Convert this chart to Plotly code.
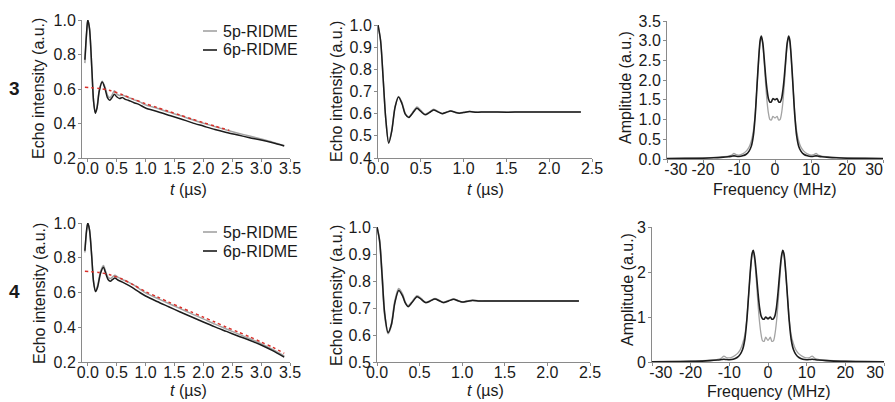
import plotly.graph_objects as go

W, H = 895, 402

# ---------------- Data ----------------
# Row 3, left: time traces
t3_left = [-0.05, -0.02, 0.0, 0.03, 0.07, 0.10, 0.13, 0.16, 0.20, 0.25, 0.30, 0.34, 0.38, 0.42,
           0.46, 0.50, 0.55, 0.60, 0.65, 0.70, 0.75, 0.80, 0.85, 0.90, 1.0, 1.2, 1.4, 1.6, 1.8,
           2.0, 2.2, 2.4, 2.6, 2.8, 3.0, 3.2, 3.4]
black3_left = [0.77, 0.93, 1.0, 0.95, 0.72, 0.53, 0.46, 0.49, 0.59, 0.64, 0.60, 0.55, 0.535, 0.55,
               0.57, 0.555, 0.545, 0.55, 0.54, 0.535, 0.528, 0.52, 0.515, 0.508, 0.49, 0.47, 0.448,
               0.428, 0.405, 0.385, 0.365, 0.348, 0.333, 0.318, 0.304, 0.288, 0.27]
gray3_left = [0.75, 0.92, 1.0, 0.95, 0.72, 0.53, 0.465, 0.495, 0.595, 0.645, 0.61, 0.565, 0.55, 0.565,
              0.59, 0.572, 0.562, 0.565, 0.557, 0.55, 0.545, 0.537, 0.532, 0.525, 0.508, 0.488, 0.466,
              0.446, 0.423, 0.402, 0.382, 0.362, 0.344, 0.327, 0.31, 0.292, 0.272]
t3_fit = [-0.05, 0.2, 0.4, 0.6, 0.8, 1.0, 1.2, 1.4, 1.6, 1.8, 2.0, 2.2, 2.45]
fit3 = [0.61, 0.603, 0.59, 0.567, 0.54, 0.515, 0.493, 0.47, 0.449, 0.426, 0.405, 0.385, 0.36]

# Row 3, middle: background-corrected
t3_mid = [0.0, 0.03, 0.06, 0.09, 0.125, 0.16, 0.20, 0.24, 0.28, 0.32, 0.36, 0.40, 0.455, 0.50, 0.55,
          0.60, 0.65, 0.70, 0.75, 0.80, 0.85, 0.90, 0.95, 1.0, 1.07, 1.15, 1.25, 1.4, 1.6, 1.8, 2.0,
          2.2, 2.37]
black3_mid = [1.0, 0.93, 0.76, 0.58, 0.467, 0.52, 0.63, 0.675, 0.645, 0.597, 0.583, 0.60, 0.625,
              0.61, 0.595, 0.605, 0.617, 0.608, 0.600, 0.606, 0.612, 0.606, 0.602, 0.605, 0.61, 0.606,
              0.608, 0.607, 0.607, 0.607, 0.607, 0.607, 0.607]
gray3_mid = [1.0, 0.93, 0.76, 0.58, 0.47, 0.523, 0.633, 0.678, 0.65, 0.60, 0.585, 0.603, 0.63,
             0.615, 0.597, 0.607, 0.62, 0.61, 0.601, 0.607, 0.613, 0.607, 0.603, 0.606, 0.61, 0.607,
             0.608, 0.607, 0.607, 0.607, 0.607, 0.607, 0.607]

# Row 4, left
t4_left = [-0.05, -0.02, 0.0, 0.03, 0.07, 0.10, 0.135, 0.17, 0.22, 0.27, 0.31, 0.35, 0.39, 0.43,
           0.47, 0.52, 0.60, 0.70, 0.80, 0.90, 1.0, 1.2, 1.4, 1.6, 1.8, 2.0, 2.2, 2.4, 2.6, 2.8,
           3.0, 3.2, 3.4]
black4_left = [0.84, 0.96, 1.0, 0.96, 0.80, 0.66, 0.605, 0.63, 0.71, 0.745, 0.71, 0.675, 0.665, 0.675,
               0.683, 0.672, 0.66, 0.643, 0.622, 0.60, 0.58, 0.548, 0.518, 0.488, 0.459, 0.43, 0.402,
               0.376, 0.35, 0.325, 0.298, 0.265, 0.228]
gray4_left = [0.83, 0.955, 1.0, 0.96, 0.80, 0.665, 0.61, 0.64, 0.72, 0.755, 0.72, 0.688, 0.68, 0.69,
              0.70, 0.688, 0.675, 0.66, 0.642, 0.62, 0.598, 0.567, 0.537, 0.507, 0.477, 0.448, 0.418,
              0.39, 0.362, 0.335, 0.306, 0.272, 0.235]
t4_fit = [-0.05, 0.2, 0.4, 0.6, 0.8, 1.0, 1.2, 1.4, 1.6, 1.8, 2.0, 2.2, 2.4, 2.6, 2.8, 3.0, 3.2, 3.4]
fit4 = [0.722, 0.715, 0.70, 0.677, 0.642, 0.605, 0.575, 0.545, 0.515, 0.487, 0.458, 0.43, 0.40,
        0.373, 0.345, 0.315, 0.285, 0.25]

# Row 4, middle
t4_mid = [0.0, 0.03, 0.06, 0.09, 0.13, 0.17, 0.21, 0.255, 0.30, 0.33, 0.365, 0.41, 0.47, 0.52, 0.57,
          0.62, 0.68, 0.73, 0.78, 0.84, 0.90, 0.95, 1.0, 1.06, 1.12, 1.2, 1.3, 1.5, 1.7, 1.9, 2.1, 2.37]
black4_mid = [1.0, 0.95, 0.82, 0.68, 0.609, 0.64, 0.72, 0.765, 0.745, 0.72, 0.705, 0.72, 0.742, 0.732,
              0.72, 0.725, 0.733, 0.727, 0.72, 0.726, 0.732, 0.727, 0.722, 0.725, 0.728, 0.726, 0.726,
              0.726, 0.726, 0.726, 0.726, 0.726]
gray4_mid = [1.0, 0.95, 0.82, 0.675, 0.605, 0.64, 0.725, 0.772, 0.75, 0.722, 0.708, 0.722, 0.745,
             0.734, 0.72, 0.726, 0.735, 0.728, 0.72, 0.727, 0.733, 0.727, 0.722, 0.725, 0.729, 0.726,
             0.726, 0.726, 0.726, 0.726, 0.726, 0.726]

# Spectra (frequency in MHz)
freq = [-30, -25, -20, -17, -15, -13, -12, -11.4, -10.8, -10, -9, -8, -7.2, -6.6, -6, -5.5, -5,
        -4.5, -4.1, -3.8, -3.4, -3.0, -2.6, -2.2, -1.8, -1.4, -1.0, -0.6, 0, 0.6, 1.0, 1.4, 1.8,
        2.2, 2.6, 3.0, 3.4, 3.8, 4.1, 4.5, 5, 5.5, 6, 6.6, 7.2, 8, 9, 10, 10.8, 11.4, 12, 13, 15,
        17, 20, 25, 30]
black3_spec = [0.01, 0.015, 0.02, 0.03, 0.04, 0.055, 0.07, 0.08, 0.07, 0.065, 0.08, 0.12, 0.2, 0.32,
               0.6, 1.1, 1.85, 2.6, 3.02, 3.12, 2.95, 2.55, 2.1, 1.75, 1.52, 1.44, 1.45, 1.53, 1.5,
               1.53, 1.45, 1.44, 1.52, 1.75, 2.1, 2.55, 2.95, 3.12, 3.02, 2.6, 1.85, 1.1, 0.6, 0.32,
               0.2, 0.12, 0.08, 0.065, 0.07, 0.08, 0.07, 0.055, 0.04, 0.03, 0.02, 0.015, 0.01]
gray3_spec = [0.01, 0.015, 0.025, 0.04, 0.05, 0.07, 0.1, 0.14, 0.11, 0.1, 0.13, 0.2, 0.3, 0.45,
              0.72, 1.15, 1.85, 2.55, 2.97, 3.08, 2.9, 2.45, 1.9, 1.45, 1.15, 1.0, 0.99, 1.08, 1.04,
              1.08, 0.99, 1.0, 1.15, 1.45, 1.9, 2.45, 2.9, 3.08, 2.97, 2.55, 1.85, 1.15, 0.72, 0.45,
              0.3, 0.2, 0.13, 0.1, 0.11, 0.14, 0.1, 0.07, 0.05, 0.04, 0.025, 0.015, 0.01]
black4_spec = [0.005, 0.01, 0.015, 0.02, 0.03, 0.045, 0.055, 0.06, 0.055, 0.05, 0.06, 0.1, 0.17, 0.27,
               0.5, 0.9, 1.5, 2.1, 2.42, 2.48, 2.3, 1.95, 1.55, 1.22, 1.03, 0.96, 0.95, 1.0, 0.96,
               1.0, 0.95, 0.96, 1.03, 1.22, 1.55, 1.95, 2.3, 2.48, 2.42, 2.1, 1.5, 0.9, 0.5, 0.27,
               0.17, 0.1, 0.06, 0.05, 0.055, 0.06, 0.055, 0.045, 0.03, 0.02, 0.015, 0.01, 0.005]
gray4_spec = [0.005, 0.01, 0.02, 0.03, 0.04, 0.06, 0.09, 0.13, 0.1, 0.09, 0.12, 0.18, 0.27, 0.4,
              0.6, 0.95, 1.5, 2.05, 2.38, 2.45, 2.22, 1.8, 1.3, 0.9, 0.62, 0.47, 0.46, 0.55, 0.48,
              0.55, 0.46, 0.47, 0.62, 0.9, 1.3, 1.8, 2.22, 2.45, 2.38, 2.05, 1.5, 0.95, 0.6, 0.4,
              0.27, 0.18, 0.12, 0.09, 0.1, 0.13, 0.09, 0.06, 0.04, 0.03, 0.02, 0.01, 0.005]

# Tick values / labels
ticks_t_left = [0.0, 0.5, 1.0, 1.5, 2.0, 2.5, 3.0, 3.5]
ticks_t_mid = [0.0, 0.5, 1.0, 1.5, 2.0, 2.5]
ticks_f = [-30, -20, -10, 0, 10, 20, 30]
# edge labels sit inside the axis ends, as in the original (figure-space padding)
ticklabels_f = ["\u2007\u2007-30", "-20", "-10", "0", "10", "20", "30\u2007\u2007"]
ticks_y_left = [0.2, 0.4, 0.6, 0.8, 1.0]
ticks_y_mid3 = [0.4, 0.5, 0.6, 0.7, 0.8, 0.9, 1.0]
ticks_y_mid4 = [0.5, 0.6, 0.7, 0.8, 0.9, 1.0]
ticks_y_spec3 = [0.0, 0.5, 1.0, 1.5, 2.0, 2.5, 3.0, 3.5]
ticks_y_spec4 = [0, 1, 2, 3]

series_names = ["5p-RIDME", "6p-RIDME"]

# ---------------- Figure ----------------
GRAY = "#a3a3a3"
BLACK = "#1c1c1c"
RED = "#d9302a"
FONT = "Liberation Sans, Arial, sans-serif"
TXT = "#1a1a1a"

fig = go.Figure()


def dx(a, b):
    return [a / W, b / W]


def dy(top, bottom):
    return [1 - bottom / H, 1 - top / H]


panels = [
    (1, (82, 290), (20, 158), [-0.1, 3.5], [0.2, 1.0], ticks_t_left, None, ticks_y_left, ".1f", ".1f"),
    (2, (378, 592), (25, 158), [0, 2.5], [0.4, 1.0], ticks_t_mid, None, ticks_y_mid3, ".1f", ".1f"),
    (3, (667, 883), (21, 159), [-30, 30], [0, 3.5], ticks_f, ticklabels_f, ticks_y_spec3, "d", ".1f"),
    (4, (82, 290), (223, 362), [-0.1, 3.5], [0.2, 1.0], ticks_t_left, None, ticks_y_left, ".1f", ".1f"),
    (5, (377, 590), (227, 362), [0, 2.5], [0.5, 1.0], ticks_t_mid, None, ticks_y_mid4, ".1f", ".1f"),
    (6, (652, 884), (227, 362), [-30, 30], [0, 3], ticks_f, ticklabels_f, ticks_y_spec4, "d", "d"),
]

axis_common = dict(showline=True, linecolor="#8a8a8a", linewidth=1, ticks="outside", ticklen=3,
                   tickcolor="#8a8a8a", tickwidth=1, showgrid=False, zeroline=False,
                   automargin=False, ticklabeloverflow="allow",
                   tickfont=dict(family=FONT, size=16, color=TXT), fixedrange=True)

layout = {}
for idx, xd, yd, xr, yr, xt, xtt, yt, xf, yf in panels:
    s = "" if idx == 1 else str(idx)
    xa = dict(domain=dx(*xd), range=xr, tickvals=xt, tickformat=xf,
              anchor="y" + s, ticklabelstandoff=-7, **axis_common)
    if xtt is not None:
        xa["ticktext"] = xtt
    layout["xaxis" + s] = xa
    layout["yaxis" + s] = dict(domain=dy(*yd), range=yr, tickvals=yt, tickformat=yf,
                              anchor="x" + s, ticklabelstandoff=-1, **axis_common)


def add_line(x, y, color, idx, dash="solid", width=1.5):
    s = "" if idx == 1 else str(idx)
    fig.add_trace(go.Scatter(
        x=x, y=y, mode="lines", line=dict(color=color, width=width, dash=dash, shape="spline",
                                          smoothing=0.8),
        xaxis="x" + s, yaxis="y" + s, showlegend=False, hoverinfo="skip"))


# Row 3
add_line(t3_left, gray3_left, GRAY, 1)
add_line(t3_left, black3_left, BLACK, 1)
add_line(t3_fit, fit3, RED, 1, dash="dot", width=1.5)
add_line(t3_mid, gray3_mid, GRAY, 2)
add_line(t3_mid, black3_mid, BLACK, 2)
add_line(freq, gray3_spec, GRAY, 3, width=1.3)
add_line(freq, black3_spec, BLACK, 3, width=1.6)
# Row 4
add_line(t4_left, gray4_left, GRAY, 4)
add_line(t4_left, black4_left, BLACK, 4)
add_line(t4_fit, fit4, RED, 4, dash="dot", width=1.5)
add_line(t4_mid, gray4_mid, GRAY, 5, width=1.8)
add_line(t4_mid, black4_mid, BLACK, 5)
add_line(freq, gray4_spec, GRAY, 6, width=1.3)
add_line(freq, black4_spec, BLACK, 6, width=1.6)

annotations = []
shapes = []


def ann(text, x, y, angle=0, size=16, bold=False, xanchor="center"):
    annotations.append(dict(text=("<b>%s</b>" % text) if bold else text, x=x / W, y=1 - y / H,
                            xref="paper", yref="paper", showarrow=False, textangle=angle,
                            xanchor=xanchor, yanchor="middle",
                            font=dict(family=FONT, size=size, color=TXT)))


# legends (key line + label)
for ytop in (31, 232):
    for k, (name, col) in enumerate(zip(series_names, [GRAY, BLACK])):
        yy = ytop + 19 * k
        shapes.append(dict(type="line", xref="paper", yref="paper", x0=203 / W, x1=217 / W,
                           y0=1 - yy / H, y1=1 - yy / H, line=dict(color=col, width=1.6)))
        ann(name, 221, yy, xanchor="left")

# y titles
ann("Echo intensity (a.u.)", 39, 89, -90)
ann("Echo intensity (a.u.)", 336, 92, -90)
ann("Amplitude (a.u.)", 625, 88, -90)
ann("Echo intensity (a.u.)", 39, 294, -90)
ann("Echo intensity (a.u.)", 336, 296, -90)
ann("Amplitude (a.u.)", 627, 290, -90)
# x titles
ann("<i>t</i> (µs)", 188, 190)
ann("<i>t</i> (µs)", 485, 190)
ann("Frequency (MHz)", 775, 190)
ann("<i>t</i> (µs)", 188, 390)
ann("<i>t</i> (µs)", 485, 390)
ann("Frequency (MHz)", 769, 391)
# row labels
ann("3", 14, 88, size=19, bold=True)
ann("4", 14, 291, size=19, bold=True)

fig.update_layout(
    template="none",
    width=W, height=H, margin=dict(l=0, r=0, t=0, b=0, autoexpand=False),
    paper_bgcolor="white", plot_bgcolor="white",
    font=dict(family=FONT, size=16, color=TXT),
    showlegend=False,
    annotations=annotations,
    shapes=shapes,
    **layout,
)

fig.write_html("out.html", config={"displayModeBar": False, "staticPlot": True},
               post_script="document.body.style.margin='0';document.body.style.overflow='hidden';")
